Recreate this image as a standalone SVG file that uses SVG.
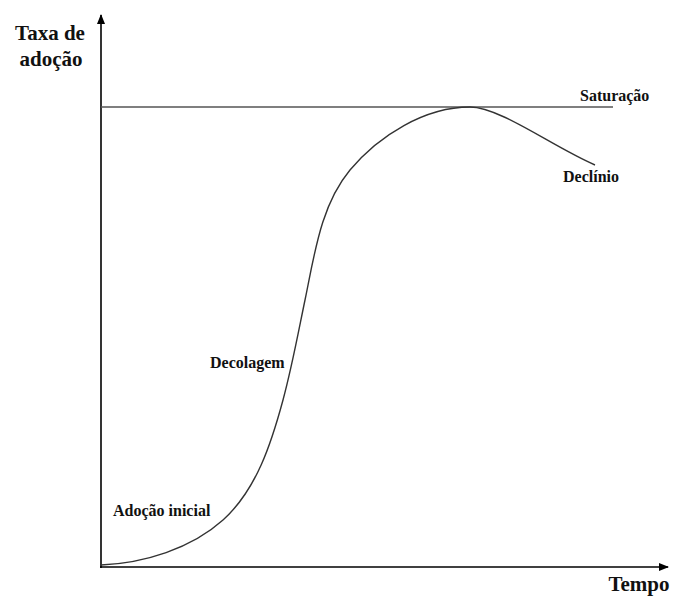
<svg xmlns="http://www.w3.org/2000/svg" width="675" height="597" viewBox="0 0 675 597">
<defs>
<marker id="arr" markerWidth="10" markerHeight="10" refX="9" refY="5" orient="auto" markerUnits="userSpaceOnUse">
<path d="M0,1 L10,5 L0,9 Z" fill="#000"/>
</marker>
<style>
.lbl{font-family:"Liberation Serif","Times New Roman",serif;font-weight:bold;fill:#111;}
.s16{font-size:16px;}
.s20{font-size:21px;}
.axis{stroke:#000;stroke-width:1.6;fill:none;}
</style>
</defs>
<rect width="675" height="597" fill="#fff"/>
<g id="axes">
<line class="axis" x1="101" y1="568" x2="101" y2="15" marker-end="url(#arr)"/>
<line class="axis" x1="100" y1="567" x2="668" y2="567" marker-end="url(#arr)"/>
</g>
<g id="saturation-line">
<line x1="101" y1="107" x2="613" y2="107" stroke="#555" stroke-width="1.6"/>
</g>
<g id="curve">
<path d="M101,565 C144,563 191,548.8 223,520 C256.4,489.9 271.3,443.4 283,400 C291.9,367.2 298.1,333.3 305,300 C314.4,255 320.6,205.3 350,170 C378.8,135.4 425,107 470,107 C500,107 553,147 595,165" fill="none" stroke="#333" stroke-width="1.4"/>
</g>
<g id="labels">
<text class="lbl s20" x="50" y="40" text-anchor="middle">Taxa de</text>
<text class="lbl s20" x="51" y="66" text-anchor="middle">adoção</text>
<text class="lbl s20" x="639" y="591" text-anchor="middle">Tempo</text>
<text class="lbl s16" x="580" y="101">Saturação</text>
<text class="lbl s16" x="563" y="182">Declínio</text>
<text class="lbl s16" x="210" y="368">Decolagem</text>
<text class="lbl s16" x="113" y="516">Adoção inicial</text>
</g>
</svg>
